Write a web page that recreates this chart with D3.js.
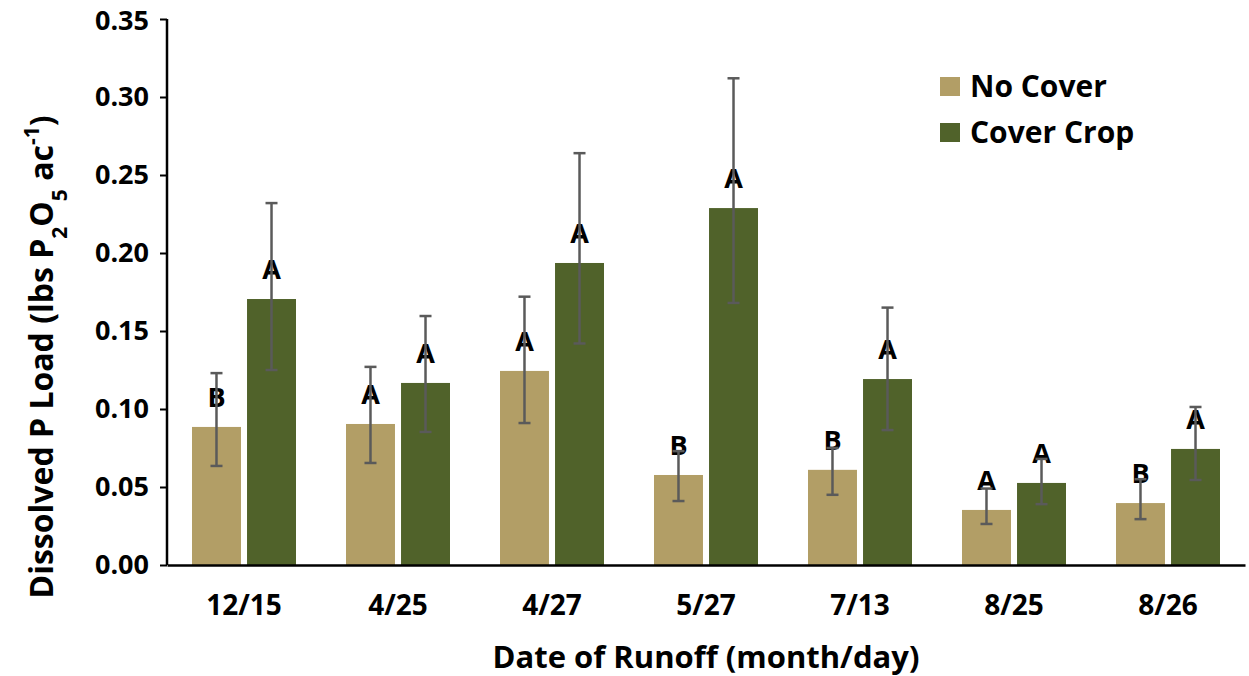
<!DOCTYPE html>
<html>
<head>
<meta charset="utf-8">
<script src="https://cdn.jsdelivr.net/npm/d3@7"></script>
<style>
  body { margin: 0; background: #fff; }
  text { font-family: 'Open Sans', 'Noto Sans', sans-serif; font-weight: bold; fill: #000; }
</style>
</head>
<body>
<div id="chart"></div>
<script>
// runoff dates and the two treatments
var dates = ['12/15', '4/25', '4/27', '5/27', '7/13', '8/25', '8/26'];
var series = ['No Cover', 'Cover Crop'];
var colors = ['#b29e66', '#50622a'];

// mean load, error bar top / bottom, significance letters
var noCover = [0.0885, 0.0904, 0.1244, 0.0577, 0.0610, 0.0353, 0.0397];
var noCoverHi = [0.123, 0.127, 0.172, 0.073, 0.075, 0.049, 0.055];
var noCoverLo = [0.0635, 0.0654, 0.091, 0.041, 0.045, 0.0263, 0.0294];
var noCoverLetter = ['B', 'A', 'A', 'B', 'B', 'A', 'B'];

var coverCrop = [0.1705, 0.1167, 0.1936, 0.2288, 0.1192, 0.0526, 0.0744];
var coverCropHi = [0.232, 0.1596, 0.264, 0.312, 0.165, 0.068, 0.1013];
var coverCropLo = [0.125, 0.0853, 0.142, 0.168, 0.0865, 0.039, 0.0545];
var coverCropLetter = ['A', 'A', 'A', 'A', 'A', 'A', 'A'];

var yTicks = [0, 0.05, 0.10, 0.15, 0.20, 0.25, 0.30, 0.35];

var width = 1249, height = 676;
var plotLeft = 167, plotRight = 1245, plotTop = 19, plotBottom = 565;

var svg = d3.select('#chart')
    .append('svg')
    .attr('width', width)
    .attr('height', height);

var x0 = d3.scaleBand().domain(dates).range([plotLeft, plotRight]);
var x1 = d3.scaleBand().domain(series).range([25, 129]).paddingInner(0.11);
var y = d3.scaleLinear().domain([0, 0.35]).range([plotBottom, plotTop]);

// build one row per bar
var rows = [];
dates.forEach(function (d, i) {
    rows.push({date: d, s: series[0], v: noCover[i], hi: noCoverHi[i], lo: noCoverLo[i], letter: noCoverLetter[i], c: colors[0]});
    rows.push({date: d, s: series[1], v: coverCrop[i], hi: coverCropHi[i], lo: coverCropLo[i], letter: coverCropLetter[i], c: colors[1]});
});

function cx(r) { return x0(r.date) + x1(r.s) + x1.bandwidth() / 2; }

// bars
svg.append('g').selectAll('rect')
    .data(rows)
    .enter().append('rect')
    .attr('x', function (r) { return x0(r.date) + x1(r.s); })
    .attr('y', function (r) { return y(r.v); })
    .attr('width', x1.bandwidth())
    .attr('height', function (r) { return plotBottom - y(r.v); })
    .attr('fill', function (r) { return r.c; });

// letters sit behind the error bars
svg.append('g').selectAll('text')
    .data(rows)
    .enter().append('text')
    .attr('x', cx)
    .attr('y', function (r) { return y(r.v) - 20; })
    .attr('text-anchor', 'middle')
    .style('font-size', '27px')
    .text(function (r) { return r.letter; });

// error bars
var err = svg.append('g')
    .attr('stroke', '#5a5a5a')
    .attr('stroke-width', 2.5);
err.selectAll('line.v')
    .data(rows)
    .enter().append('line')
    .attr('x1', cx).attr('x2', cx)
    .attr('y1', function (r) { return y(r.hi); })
    .attr('y2', function (r) { return y(r.lo); });
['hi', 'lo'].forEach(function (k) {
    err.selectAll('line.' + k)
        .data(rows)
        .enter().append('line')
        .attr('x1', function (r) { return cx(r) - 6; })
        .attr('x2', function (r) { return cx(r) + 6; })
        .attr('y1', function (r) { return y(r[k]); })
        .attr('y2', function (r) { return y(r[k]); });
});

// y axis
var yAxis = svg.append('g')
    .attr('transform', 'translate(' + plotLeft + ',0)')
    .call(d3.axisLeft(y).tickValues(yTicks).tickFormat(d3.format('.2f')).tickSize(7).tickPadding(11));
yAxis.selectAll('text').style('font-size', '27px');
// top label sits right at the page edge, nudge it down a touch
yAxis.selectAll('.tick text').filter(function (d) { return d === 0.35; }).attr('dy', '0.4em');
yAxis.select('.domain').attr('stroke-width', 2.5).attr('d', 'M0,' + plotTop + 'V' + plotBottom);
yAxis.selectAll('.tick line').attr('stroke-width', 2);

// x axis
var xAxis = svg.append('g')
    .attr('transform', 'translate(0,' + plotBottom + ')')
    .call(d3.axisBottom(x0).tickSize(0).tickPadding(30));
xAxis.selectAll('text').style('font-size', '28px');
xAxis.select('.domain').attr('stroke-width', 2.5);

// axis titles
var yt = svg.append('text')
    .attr('transform', 'translate(53,357) rotate(-90)')
    .attr('text-anchor', 'middle')
    .style('font-size', '32px');
yt.append('tspan').text('Dissolved P Load (lbs P');
yt.append('tspan').attr('baseline-shift', 'sub').style('font-size', '21px').text('2');
yt.append('tspan').text('O');
yt.append('tspan').attr('baseline-shift', 'sub').style('font-size', '21px').text('5');
yt.append('tspan').text(' ac');
yt.append('tspan').attr('baseline-shift', 'super').style('font-size', '21px').text('-1');
yt.append('tspan').text(')');

svg.append('text')
    .attr('x', 706).attr('y', 668)
    .attr('text-anchor', 'middle')
    .style('font-size', '31px')
    .text('Date of Runoff (month/day)');

// legend
var legend = svg.append('g').attr('transform', 'translate(940,77)');
series.forEach(function (s, i) {
    legend.append('rect')
        .attr('x', 0).attr('y', i * 46)
        .attr('width', 20).attr('height', 19)
        .attr('fill', colors[i]);
    legend.append('text')
        .attr('x', 30).attr('y', i * 46 + 20)
        .style('font-size', '30px')
        .text(s);
});
</script>
</body>
</html>
